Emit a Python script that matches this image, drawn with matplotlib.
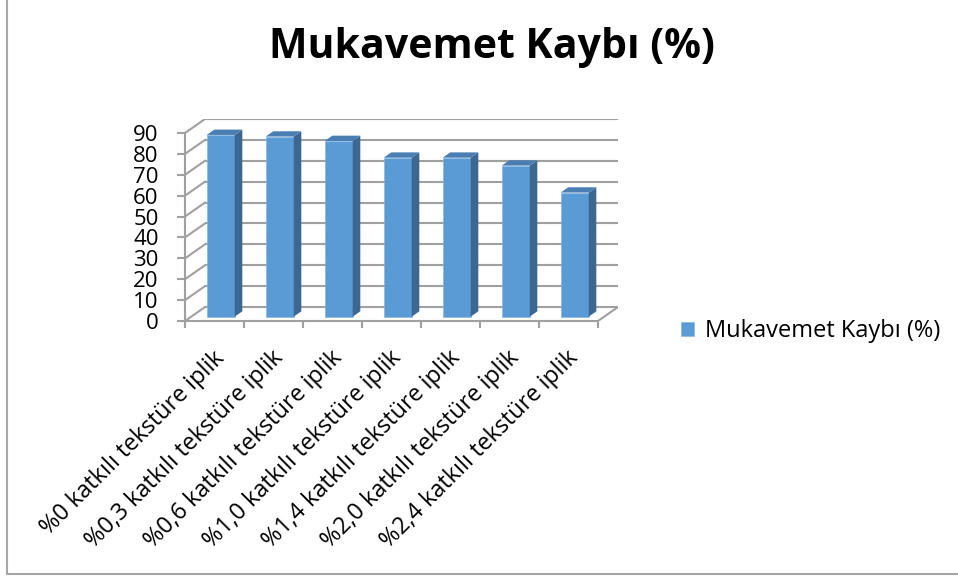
import numpy as np
import matplotlib
matplotlib.use('Agg')
import matplotlib.pyplot as plt
from matplotlib.patches import Polygon
from matplotlib.lines import Line2D

plt.rcParams['font.family'] = ['Open Sans', 'DejaVu Sans']

categories = ['%0 katkılı tekstüre iplik', '%0,3 katkılı tekstüre iplik',
              '%0,6 katkılı tekstüre iplik', '%1,0 katkılı tekstüre iplik',
              '%1,4 katkılı tekstüre iplik', '%2,0 katkılı tekstüre iplik',
              '%2,4 katkılı tekstüre iplik']
values = [87.0, 86.2, 84.1, 76.1, 76.1, 72.3, 59.4]
yticks = list(range(0, 100, 10))
title = 'Mukavemet Kaybı (%)'
series_name = 'Mukavemet Kaybı (%)'

W, H = 958, 579
fig = plt.figure(figsize=(W / 100, H / 100), dpi=100)

# axes: front floor 185..598 px, y 0 at 321 px
DX = 20 / 59.0      # depth offset in category units
DY = 6.7            # depth offset in value units
n = len(categories)
left_px, right_px = 185, 185 + 59.0 * (n + DX)
bot_px = 321
top_px = bot_px - 2.089 * (90 + DY)
ax = fig.add_axes([left_px / W, 1 - bot_px / H, (right_px - left_px) / W, (bot_px - top_px) / H])
ax.set_xlim(0, n + DX)
ax.set_ylim(0, 90 + DY)
ax.patch.set_visible(False)

grid_c = '#A0A0A0'
for v in yticks:
    ax.plot([DX, n + DX], [v + DY, v + DY], color=grid_c, lw=1.5, zorder=1, solid_capstyle='butt')
    ax.plot([0, DX], [v, v + DY], color=grid_c, lw=1.5, zorder=1)
ax.plot([n, n + DX], [0, DY], color=grid_c, lw=1.5, zorder=1)

# 3D-looking bars
f0, f1 = 0.31, 0.69
bw = 0.475
front_c, side_c, top_c = '#5B9BD5', '#3C6790', '#4A7EB2'
x = np.arange(n) + 0.5 + f0 * DX
base = f0 * DY
bars = ax.bar(x, values, width=bw, bottom=base, color=front_c, zorder=3,
              label=series_name, edgecolor='#7FB2E0', linewidth=0.4)
ddx, ddy = (f1 - f0) * DX, (f1 - f0) * DY
for xi, v in zip(x, values):
    xl, xr = xi - bw / 2, xi + bw / 2
    yt = base + v
    ax.add_patch(Polygon([(xr, base), (xr + ddx, base + ddy), (xr + ddx, yt + ddy), (xr, yt)],
                         closed=True, facecolor=side_c, edgecolor='none', zorder=3))
    ax.add_patch(Polygon([(xl, yt), (xr, yt), (xr + ddx, yt + ddy), (xl + ddx, yt + ddy)],
                         closed=True, facecolor=top_c, edgecolor='none', zorder=3))

for s in ['top', 'right']:
    ax.spines[s].set_visible(False)
ax.spines['left'].set_bounds(0, 90)
ax.spines['bottom'].set_bounds(0, n)
for s in ['left', 'bottom']:
    ax.spines[s].set_color(grid_c)
    ax.spines[s].set_linewidth(1.5)

ax.set_yticks(yticks)
ax.set_yticklabels([str(t) for t in yticks], fontsize=16)
ax.tick_params(axis='y', direction='out', length=6, width=1.5, color=grid_c, pad=13)
ax.set_xticks(np.arange(n + 1))
ax.set_xticklabels([])
ax.tick_params(axis='x', direction='out', length=5, width=1.5, color=grid_c)

for i, lab in enumerate(categories):
    ax.text(i + 0.46, -12.0, lab, rotation=45, rotation_mode='anchor',
            ha='right', va='top', fontsize=16.8, clip_on=False)

fig.text(492 / W, 1 - 47 / H, title, ha='center', va='center',
         fontsize=29.5, fontweight='bold')

fig.legend(handles=[bars], labels=[series_name], loc='center left',
           bbox_to_anchor=(681 / W, 1 - 331 / H), frameon=False, fontsize=17,
           handlelength=0.55, handleheight=0.55, handletextpad=0.45, borderpad=0,
           borderaxespad=0)

fig.add_artist(Line2D([7 / W, 7 / W], [1, 1 - 574 / H], transform=fig.transFigure,
                      color='#A6A6A6', lw=1.5))
fig.add_artist(Line2D([7 / W, 1], [1 - 574 / H, 1 - 574 / H], transform=fig.transFigure,
                      color='#A6A6A6', lw=1.5))

fig.savefig('out.png', dpi=100)
